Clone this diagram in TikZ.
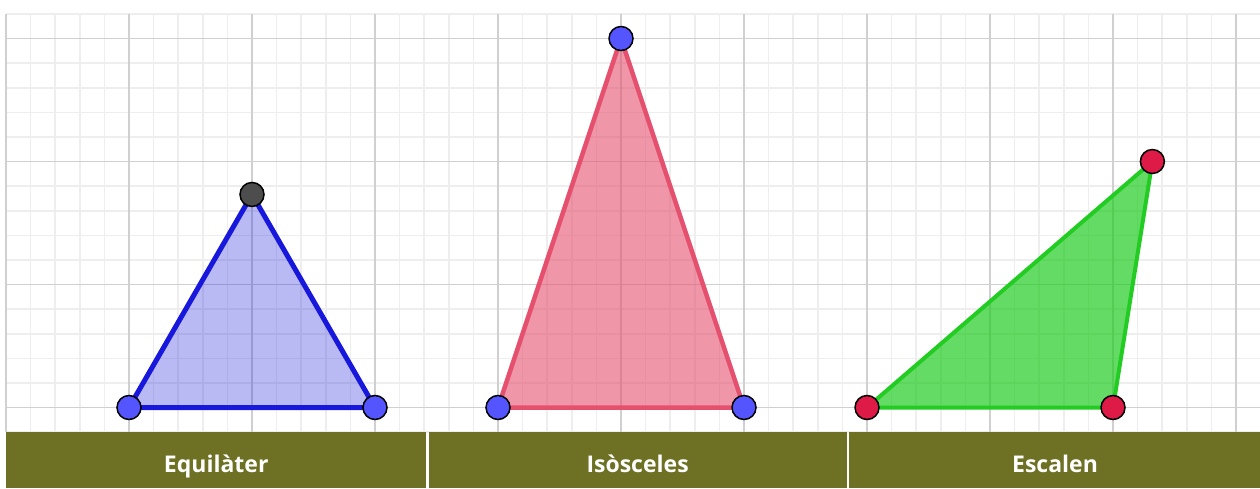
\documentclass[tikz,border=0pt]{standalone}
\usepackage{fontspec}
\setmainfont{Open Sans}
\usepackage{xcolor}
\usetikzlibrary{positioning}

\definecolor{barolive}{RGB}{110,112,35}
\definecolor{minorgray}{RGB}{238,238,238}
\definecolor{majorgray}{RGB}{208,208,208}
\definecolor{equiblue}{RGB}{24,24,220}
\definecolor{isopink}{RGB}{229,80,110}
\definecolor{scagreen}{RGB}{34,204,34}
\definecolor{ptblue}{RGB}{85,85,255}
\definecolor{ptred}{RGB}{222,26,70}
\definecolor{ptgray}{RGB}{77,77,77}

\begin{document}
\begin{tikzpicture}[x=123pt, y=123pt, node distance=2pt, every node/.style={font=\bfseries\fontsize{23}{27}\selectfont}, vertex/.style={circle,draw=black,line width=1.5pt,minimum size=24pt,inner sep=0pt}, tri/.style={line width=4.5pt,line join=round}, panel/.style={fill=barolive,text=white,minimum height=56pt,inner sep=0pt,text height=24pt,text depth=0pt}]
\useasboundingbox (-0.0488,-0.6545) rectangle (10.195,3.313);
% grid
\draw[minorgray, line width=1.6pt, step=0.2] (0,-0.2) grid (10.195,3.2);
\draw[majorgray, line width=1.8pt, step=1] (0,-0.2) grid (10.195,3.2);
% corners
\coordinate (eqA) at (1,0);
\coordinate (eqB) at (3,0);
\coordinate (eqC) at (2,1.732);
\coordinate (isA) at (4,0);
\coordinate (isB) at (6,0);
\coordinate (isC) at (5,3);
\coordinate (scA) at (7,0);
\coordinate (scB) at (9,0);
\coordinate (scC) at (9.32,2);
% triangles
\draw[tri, draw=equiblue, fill=equiblue, fill opacity=0.3, line width=5pt] (eqA) -- (eqB) -- (eqC) -- cycle;
\draw[tri, draw=isopink, fill=isopink, fill opacity=0.6] (isA) -- (isB) -- (isC) -- cycle;
\draw[tri, draw=scagreen, fill=scagreen, fill opacity=0.7, line width=4pt] (scA) -- (scB) -- (scC) -- cycle;
% points
\node[vertex, fill=ptblue] (ptEqA) at (eqA) {};
\node[vertex, fill=ptblue] (ptEqB) at (eqB) {};
\node[vertex, fill=ptgray] (ptEqC) at (eqC) {};
\node[vertex, fill=ptblue] (ptIsA) at (isA) {};
\node[vertex, fill=ptblue] (ptIsB) at (isB) {};
\node[vertex, fill=ptblue] (ptIsC) at (isC) {};
\node[vertex, fill=ptred] (ptScA) at (scA) {};
\node[vertex, fill=ptred] (ptScB) at (scB) {};
\node[vertex, fill=ptred] (ptScC) at (scC) {};
% labels
\node[panel, minimum width=420pt, anchor=north west] (equilater) at (0,-0.2) {Equilàter};
\node[panel, minimum width=418pt, right=of equilater] (isosceles) {Isòsceles};
\node[panel, minimum width=412pt, right=of isosceles] (escalen) {Escalen};
\end{tikzpicture}
\end{document}
